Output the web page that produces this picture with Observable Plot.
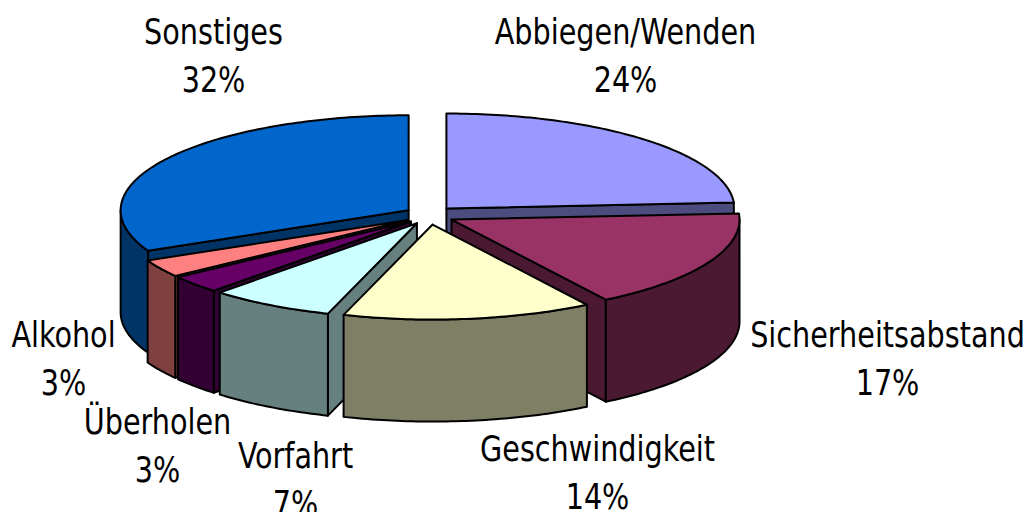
<!DOCTYPE html>
<html><head><meta charset="utf-8">
<style>html,body{margin:0;padding:0;background:#fff;overflow:hidden}</style>
<script src="https://cdn.jsdelivr.net/npm/d3@7"></script>
<script src="https://cdn.jsdelivr.net/npm/@observablehq/plot@0.6"></script>
</head><body><div id="chart"></div>
<script>
// Data
const categories = ["Abbiegen/Wenden","Sicherheitsabstand","Geschwindigkeit","Vorfahrt","Überholen","Alkohol","Sonstiges"];
const shares = [24,17,14,7,3,3,32];
// Styles / layout
const topColors = ["#9999FF","#993366","#FFFFCC","#CCFFFF","#660066","#FF8080","#0066CC"];
const sideColors = ["#4C4C7F","#4C1933","#7F7F66","#667F7F","#330033","#7F4040","#003366"];
const paintOrder = [0,6,5,4,3,1,2];
const labelX = [625,887,597,295,157,63,213];
const labelY = [52,355,469,476,442,355,52];
const pie = {cx:429, cy:214.8, rx:288, ry:95, depth:102, explodeX:24.7, explodeY:9.3};
const textSquash = 0.885;

const total = d3.sum(shares);
const ends = d3.cumsum(shares);
const rad = d => d * Math.PI / 180;
const faces = [];
function addFace(id, color, pts){
  [...pts, pts[0]].forEach((p,i) => faces.push({id, color, x:p[0], y:p[1], i}));
}
paintOrder.forEach(k => {
  const a0 = (ends[k]-shares[k])/total*360, a1 = ends[k]/total*360, mid = (a0+a1)/2;
  const ox = pie.cx + pie.explodeX*Math.sin(rad(mid));
  const oy = pie.cy - pie.explodeY*Math.cos(rad(mid));
  const rim = a => [ox + pie.rx*Math.sin(rad(a)), oy - pie.ry*Math.cos(rad(a))];
  const down = ([x,y]) => [x, y + pie.depth];
  const arc = (s,e) => { const n = Math.max(2, Math.ceil(Math.abs(e-s))); return d3.range(n+1).map(i => rim(s+(e-s)*i/n)); };
  // only the cut faces that look toward the viewer
  if (Math.sin(rad(a0)) < 0) addFace(`${k}-a`, sideColors[k], [[ox,oy], rim(a0), down(rim(a0)), [ox,oy+pie.depth]]);
  if (Math.sin(rad(a1)) > 0) addFace(`${k}-b`, sideColors[k], [[ox,oy], rim(a1), down(rim(a1)), [ox,oy+pie.depth]]);
  const s = Math.max(a0,90), e = Math.min(a1,270);
  if (e > s) { const w = arc(s,e); addFace(`${k}-w`, sideColors[k], [...w, ...w.slice().reverse().map(down)]); }
  addFace(`${k}-t`, topColors[k], [[ox,oy], ...arc(a0,a1)]);
});
const labels = categories.map((c,i) => ({text:`${c}\n${shares[i]}%`, x:labelX[i], y:labelY[i]}));

const squash = (index, scales, values, dims, context, next) => {
  const g = next(index, scales, values, dims, context);
  d3.select(g).selectAll("text").attr("transform", function(){
    return `${this.getAttribute("transform") || ""} scale(${textSquash},1)`;
  });
  return g;
};

const chart = Plot.plot({
  width:1025, height:512, margin:0,
  x:{domain:[0,1025], range:[0,1025], axis:null},
  y:{domain:[0,512], range:[0,512], axis:null},
  color:{type:"identity"},
  marks:[
    Plot.line(faces,{x:"x",y:"y",z:"id",fill:"color",stroke:"#000",strokeWidth:2,strokeLinejoin:"round"}),
    Plot.text(labels,{x:"x",y:"y",text:"text",fontSize:36,lineHeight:1.33,fill:"#000",fontFamily:"'DejaVu Sans Condensed','DejaVu Sans',sans-serif",render:squash})
  ]
});
chart.style.background = "#fff";
document.getElementById("chart").append(chart);
</script></body></html>
